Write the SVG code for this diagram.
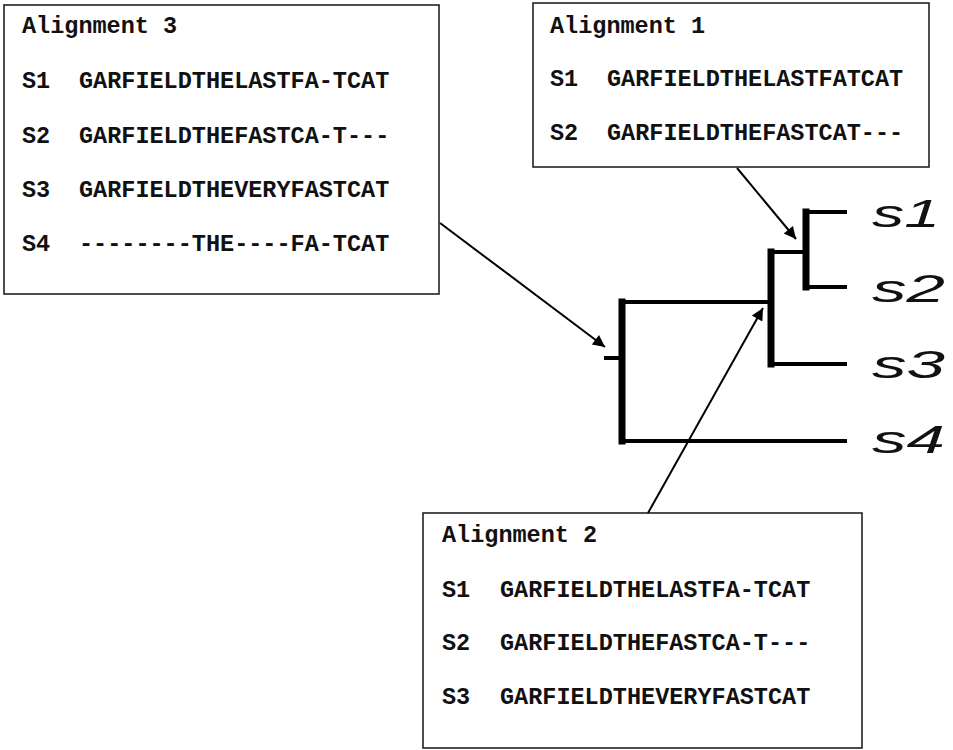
<svg xmlns="http://www.w3.org/2000/svg" width="953" height="750" viewBox="0 0 953 750">
<style>
.box{fill:#fff;stroke:#222;stroke-width:1.6}
.t{font-family:"Liberation Mono","Courier New",monospace;font-weight:bold;font-size:23.5px;fill:#111}
.br{stroke:#000;fill:none;stroke-linecap:square}
.h{stroke-width:4}
.v{stroke-width:7}
.lab{font-family:"Liberation Sans",Arial,sans-serif;font-style:italic;font-size:39px;fill:#111}
.arr{stroke:#000;stroke-width:2;fill:none;marker-end:url(#ah)}
</style>
<defs>
<marker id="ah" viewBox="0 0 10 10" refX="10" refY="5" markerWidth="8.5" markerHeight="6" markerUnits="strokeWidth" orient="auto">
<path d="M0,0 L10,5 L0,10 z" fill="#000"/>
</marker>
</defs>
<g id="alignment3">
<rect class="box" x="4" y="5" width="435" height="289"/>
<text class="t" x="22" y="33">Alignment 3</text>
<text class="t" x="22" y="88">S1</text><text class="t" x="79" y="88">GARFIELDTHELASTFA-TCAT</text>
<text class="t" x="22" y="143">S2</text><text class="t" x="79" y="143">GARFIELDTHEFASTCA-T---</text>
<text class="t" x="22" y="197">S3</text><text class="t" x="79" y="197">GARFIELDTHEVERYFASTCAT</text>
<text class="t" x="22" y="251">S4</text><text class="t" x="79" y="251">--------THE----FA-TCAT</text>
</g>
<g id="alignment1">
<rect class="box" x="533" y="3" width="396" height="164"/>
<text class="t" x="550" y="33">Alignment 1</text>
<text class="t" x="550" y="86">S1</text><text class="t" x="607" y="86">GARFIELDTHELASTFATCAT</text>
<text class="t" x="550" y="140">S2</text><text class="t" x="607" y="140">GARFIELDTHEFASTCAT---</text>
</g>
<g id="alignment2">
<rect class="box" x="423" y="513" width="439" height="235"/>
<text class="t" x="442" y="542">Alignment 2</text>
<text class="t" x="442" y="597">S1</text><text class="t" x="500" y="597">GARFIELDTHELASTFA-TCAT</text>
<text class="t" x="442" y="650">S2</text><text class="t" x="500" y="650">GARFIELDTHEFASTCA-T---</text>
<text class="t" x="442" y="704">S3</text><text class="t" x="500" y="704">GARFIELDTHEVERYFASTCAT</text>
</g>
<g id="tree">
<line class="br h" x1="606" y1="358" x2="620" y2="358"/>
<line class="br v" x1="622" y1="302" x2="622" y2="441"/>
<line class="br h" x1="622" y1="302" x2="771" y2="302"/>
<line class="br h" x1="622" y1="441" x2="845" y2="441"/>
<line class="br v" x1="771" y1="252" x2="771" y2="364"/>
<line class="br h" x1="771" y1="252" x2="806" y2="252"/>
<line class="br h" x1="771" y1="364" x2="845" y2="364"/>
<line class="br v" x1="806" y1="212" x2="806" y2="287"/>
<line class="br h" x1="806" y1="212" x2="845" y2="212"/>
<line class="br h" x1="806" y1="287" x2="845" y2="287"/>
</g>
<g id="labels">
<text class="lab" x="872" y="227" textLength="68" lengthAdjust="spacingAndGlyphs">s1</text>
<text class="lab" x="872" y="302" textLength="73" lengthAdjust="spacingAndGlyphs">s2</text>
<text class="lab" x="872" y="378" textLength="73" lengthAdjust="spacingAndGlyphs">s3</text>
<text class="lab" x="872" y="453" textLength="73" lengthAdjust="spacingAndGlyphs">s4</text>
</g>
<g id="connectors">
<line class="arr" x1="737" y1="168" x2="796" y2="239"/>
<line class="arr" x1="440" y1="223" x2="605" y2="347"/>
<line class="arr" x1="648" y1="513" x2="763" y2="308"/>
</g>
</svg>
